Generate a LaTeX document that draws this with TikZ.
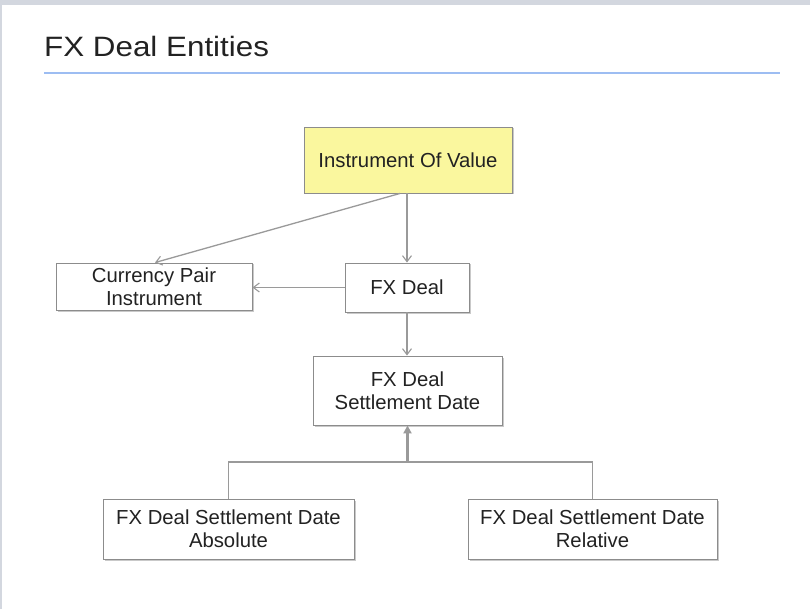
\documentclass[tikz,border=0pt]{standalone}
\usepackage{fontspec}
\setmainfont{Liberation Sans}
\newfontfamily\titlefont[FakeStretch=1.12]{Liberation Sans}
\usetikzlibrary{arrows.meta,shadows}
\definecolor{framegray}{HTML}{D3D7DF}
\definecolor{rulebl}{HTML}{9DBDF2}
\definecolor{boxline}{HTML}{8C8C8C}
\definecolor{conn}{HTML}{9A9A9A}
\definecolor{ivyellow}{HTML}{FAF79E}
\definecolor{txt}{HTML}{222222}
\tikzset{
  entity/.style={draw=boxline, line width=0.9pt, fill=white, align=center,
    inner sep=0pt, font=\fontsize{20.3}{23}\selectfont, text=txt,
    drop shadow={shadow xshift=1.5pt, shadow yshift=-1.5pt, opacity=0.35, fill=black!60}},
  conn/.style={draw=conn, line width=1.3pt, -{Straight Barb[length=6pt,width=9pt,line width=1.1pt]}},
  connbold/.style={draw=conn, line width=2.2pt, -{Triangle[length=8pt,width=8pt]}},
  plainline/.style={draw=conn, line width=1.3pt},
}
\begin{document}
\begin{tikzpicture}[x=1pt,y=-1pt]
\useasboundingbox (0,0) rectangle (810,609);
\fill[white] (0,0) rectangle (810,609);
\fill[framegray] (0,0) rectangle (810,5);
\fill[framegray] (0,0) rectangle (2,609);
% title
\node[anchor=base west, inner sep=0pt, font=\titlefont\fontsize{28}{32}\selectfont, text=txt] (title) at (44,56.7) {FX Deal Entities};
\draw[rulebl, line width=2pt] (44,73) -- (780,73);
% nodes
\node[entity, fill=ivyellow, minimum width=208pt, minimum height=66pt] (iov) at (408,160) {Instrument Of Value};
\node[entity, minimum width=124pt, minimum height=49pt] (fx) at (407,287.5) {FX Deal};
\node[entity, minimum width=196pt, minimum height=47pt] (cp) at (154,286.5) {Currency Pair\\Instrument};
\node[entity, minimum width=189pt, minimum height=69pt] (sd) at (407.5,390.5) {FX Deal\\Settlement Date};
\node[entity, minimum width=251pt, minimum height=60pt] (abs) at (228.5,529) {FX Deal Settlement Date\\Absolute};
\node[entity, minimum width=249pt, minimum height=60pt] (rel) at (592.5,529) {FX Deal Settlement Date\\Relative};
% connectors
\coordinate (iovs) at ([xshift=-8pt]iov.south);
\coordinate (cpn) at ([xshift=1pt]cp.north);
\coordinate (join) at (407.5,462);
\draw[conn] (iov.south -| fx.north) -- (fx.north);
\draw[conn] (iovs) -- (cpn);
\draw[conn] (fx.west) -- (fx.west -| cp.east);
\draw[conn] (fx.south) -- (fx.south |- sd.north);
\draw[plainline] (abs.north) |- (join) -| (rel.north);
\draw[connbold] (join) -- (join |- sd.south);
\end{tikzpicture}
\end{document}
